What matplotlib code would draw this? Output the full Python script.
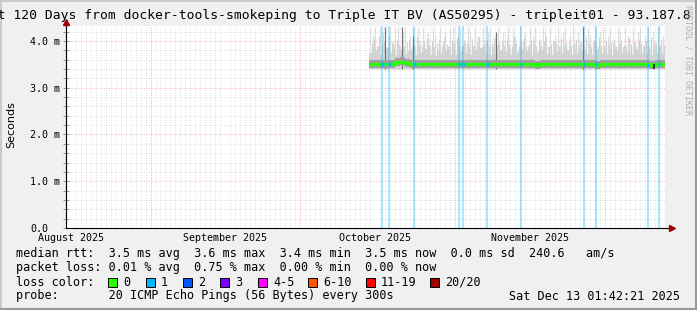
import matplotlib
matplotlib.use("Agg")
import matplotlib.pyplot as plt
import numpy as np
from matplotlib.ticker import FixedLocator
from matplotlib.patches import Rectangle
from matplotlib.lines import Line2D

W, H, DPI = 697, 310, 100

# ---------------- data (x in days since graph start, Aug 15 2025 01:42) -------------
month_starts = [16.93, 46.93, 77.93, 107.93]
month_label_pos = [0.93, 31.93, 61.93, 92.93]
month_labels = ["August 2025", "September 2025", "October 2025", "November 2025"]

y_ticks = [0.0, 1.0, 2.0, 3.0, 4.0]
y_ticklabels = ["0.0", "1.0 m", "2.0 m", "3.0 m", "4.0 m"]

data_start = 60.8
# per-day median rtt (ms), days 60.8..120
median_rtt = [3.50, 3.50, 3.50, 3.51, 3.51, 3.54, 3.56, 3.52, 3.50, 3.50,
              3.50, 3.50, 3.51, 3.50, 3.50, 3.50, 3.50, 3.51, 3.50, 3.50,
              3.50, 3.50, 3.50, 3.50, 3.51, 3.50, 3.50, 3.50, 3.50, 3.50,
              3.50, 3.50, 3.50, 3.49, 3.50, 3.50, 3.50, 3.50, 3.50, 3.50,
              3.50, 3.50, 3.50, 3.50, 3.50, 3.49, 3.50, 3.50, 3.50, 3.50,
              3.50, 3.50, 3.50, 3.50, 3.50, 3.50, 3.49, 3.50, 3.50]
# per-day upper level of the dense smoke (ms)
smoke_mid = [3.75, 3.80, 3.70, 3.85, 3.75, 3.70, 3.80, 3.72, 3.78, 3.70,
             3.75, 3.82, 3.70, 3.68, 3.75, 3.80, 3.72, 3.70, 3.78, 3.74,
             3.70, 3.80, 3.85, 3.75, 3.70, 3.72, 3.80, 3.76, 3.70, 3.75,
             3.82, 3.78, 3.70, 3.74, 3.80, 3.72, 3.70, 3.77, 3.75, 3.80,
             3.70, 3.73, 3.78, 3.72, 3.70, 3.80, 3.75, 3.72, 3.70, 3.78,
             3.74, 3.76, 3.70, 3.80, 3.72, 3.75, 3.70, 3.74, 3.72]
smoke_low = 3.40
# half-day max ping spikes (ms), days 61.0..119.5
smoke_top = [4.3, 4.1, 4.3, 3.9, 4.3, 4.2, 4.3, 3.8, 4.3, 4.0, 4.3, 4.3, 3.9, 4.2, 4.3, 3.8, 4.1, 4.3, 3.9, 4.3,
             4.0, 4.3, 3.8, 4.2, 3.9, 4.3, 4.1, 3.8, 4.3, 4.0, 4.2, 3.9, 4.3, 4.3, 3.8, 4.1, 4.3, 3.9, 4.0, 4.3,
             4.2, 3.9, 4.3, 4.1, 3.8, 4.3, 4.0, 4.2, 4.3, 3.9, 4.1, 4.3, 3.8, 4.2, 4.0, 4.3, 3.9, 4.3, 4.1, 3.8,
             4.3, 4.0, 4.2, 3.9, 4.3, 4.1, 4.3, 3.8, 4.0, 4.3, 4.2, 3.9, 4.3, 4.0, 4.1, 4.3, 3.9, 4.2, 4.3, 3.8,
             4.1, 4.3, 3.9, 4.2, 4.0, 4.3, 3.8, 4.3, 4.1, 4.0, 4.3, 3.9, 4.2, 4.3, 3.8, 4.1, 4.3, 4.0, 3.9, 4.3,
             4.2, 3.9, 4.3, 4.1, 3.8, 4.3, 4.0, 4.2, 4.3, 3.9, 4.1, 4.3, 3.8, 4.2, 4.0, 4.3, 3.9, 4.1]
# half-day upper-percentile pings (ms), days 61.25..119.75
smoke_upper = [3.95, 4.05, 3.90, 4.10, 3.92, 4.00, 3.88, 4.08, 3.95, 3.90, 4.02, 3.94, 4.10, 3.90, 3.98, 4.04, 3.90, 3.96, 4.08, 3.92,
               3.90, 3.98, 4.06, 3.92, 4.00, 3.88, 3.96, 4.04, 3.90, 4.08, 3.94, 3.90, 4.00, 3.96, 4.06, 3.90, 3.92, 4.02, 3.96, 3.90,
               4.04, 3.92, 3.98, 4.08, 3.90, 3.94, 4.02, 3.90, 3.96, 4.06, 3.92, 3.98, 4.00, 3.90, 4.04, 3.94, 3.90, 4.08, 3.96, 3.92,
               3.98, 4.06, 3.90, 3.94, 4.02, 3.96, 3.90, 4.04, 3.92, 3.98, 4.08, 3.90, 3.94, 4.00, 3.96, 3.90, 4.06, 3.92, 3.98, 4.02,
               3.90, 3.96, 4.04, 3.92, 3.98, 3.90, 4.06, 3.94, 3.90, 4.02, 3.96, 4.08, 3.92, 3.90, 4.00, 3.94, 3.98, 4.04, 3.90, 3.96,
               4.02, 3.92, 3.90, 4.06, 3.94, 3.98, 3.90, 4.04, 3.96, 3.92, 4.00, 3.90, 4.08, 3.94, 3.96, 3.90, 4.02, 3.92]
# darker full-height spikes
dark_spike_days = [64.0, 67.4, 69.6, 86.2, 103.6]
dark_spike_top = [4.3, 4.3, 4.1, 4.2, 4.3]
dip_day, dip_low = 117.8, 3.40
# days with 1/20 packet loss
loss_days = [63.4, 64.8, 69.8, 78.8, 79.6, 84.4, 91.2, 103.8, 106.2, 116.6, 118.8]

loss_labels = ["0", "1", "2", "3", "4-5", "6-10", "11-19", "20/20"]
loss_colors = ["#26ff00", "#00b8ff", "#0059ff", "#7e00ff", "#ff00ff", "#ff5500", "#ff0000", "#a10000"]
loss_box_x = [108, 146, 183, 220, 258, 308, 366, 430]

title = "Last 120 Days from docker-tools-smokeping to Triple IT BV (AS50295) - tripleit01 - 93.187.8"
row_median = "median rtt:  3.5 ms avg  3.6 ms max  3.4 ms min  3.5 ms now  0.0 ms sd  240.6   am/s"
row_loss = "packet loss: 0.01 % avg  0.75 % max  0.00 % min  0.00 % now"
row_probe = "probe:       20 ICMP Echo Pings (56 Bytes) every 300s"
date_text = "Sat Dec 13 01:42:21 2025"

# ---------------- figure ----------------
fig = plt.figure(figsize=(W / DPI, H / DPI), dpi=DPI, facecolor="#F0F0F0")
MONO = "DejaVu Sans Mono"

def px(x, y):
    return x / W, 1 - y / H

ax_l, ax_r, ax_t, ax_b = 66, 665, 26, 228
ax = fig.add_axes([ax_l / W, 1 - ax_b / H, (ax_r - ax_l) / W, (ax_b - ax_t) / H])
ax.set_facecolor("white")
ax.set_xlim(0, 120)
ax.set_ylim(0, 4.32)

# grid
ax.set_axisbelow(True)
ax.xaxis.set_minor_locator(FixedLocator(np.arange(0.93, 120, 1.0)))
ax.yaxis.set_minor_locator(FixedLocator(np.arange(0.2, 4.32, 0.2)))
ax.grid(which="minor", color="#d4d4d4", ls=(0, (1, 2)), lw=0.6)
ax.yaxis.grid(which="major", color="#f4a0a0", ls=(0, (1, 2)), lw=0.6)
for m in month_starts:
    ax.axvline(m, color="#f4a0a0", ls=(0, (1, 2)), lw=0.6, zorder=0.6)

# smoke
edges = [data_start] + list(range(62, 121))
top_x = np.arange(61.0, 120.0, 0.5)
upper_x = np.arange(61.25, 120.0, 0.5)
ax.vlines(top_x, smoke_low, smoke_top, color="#dcdcdc", lw=0.9, zorder=1.9)
ax.vlines(upper_x, smoke_low, smoke_upper, color="#d0d0d0", lw=0.8, zorder=1.95)
ax.stairs(smoke_mid, edges, baseline=smoke_low, fill=True, color="#d2d2d2", lw=0, zorder=2)
ax.vlines(dark_spike_days, smoke_low, dark_spike_top, color="#707070", lw=0.8, zorder=2.1)
ax.stairs(np.array(median_rtt) + 0.09, edges, baseline=np.array(median_rtt) - 0.08,
          fill=True, color="#a0a0a0", lw=0, zorder=2.2)
ax.vlines([dip_day], dip_low, 3.5, color="#222222", lw=1.2, zorder=3.5)

# loss bars
ax.vlines(loss_days, 0, 4.32, color="#00b8ff", alpha=0.4, lw=1.2, zorder=2.5)

# median line
ax.stairs(median_rtt, edges, baseline=None, color=loss_colors[0], lw=2.3, zorder=3)
for d in loss_days:
    i = min(int(d) - 61 + 1, len(median_rtt) - 1) if d >= 62 else 0
    ax.plot([d - 0.25, d + 0.25], [median_rtt[i]] * 2, color=loss_colors[1], lw=2.3,
            solid_capstyle="butt", zorder=3.1)

# axes
for s in ["top", "right"]:
    ax.spines[s].set_visible(False)
for s in ["left", "bottom"]:
    ax.spines[s].set_color("#000000")
    ax.spines[s].set_linewidth(0.8)
    ax.spines[s].set_zorder(5)
ax.set_xticks(month_label_pos, month_labels)
ax.tick_params(axis="x", which="both", length=0, pad=3.8, labelsize=7.2)
for lbl in ax.get_xticklabels():
    lbl.set_fontfamily(MONO)
ax.set_yticks(y_ticks, y_ticklabels)
ax.tick_params(axis="y", which="both", direction="inout", length=4, width=0.6,
               color="#888888", pad=24, labelsize=7.2)
for lbl in ax.get_yticklabels():
    lbl.set_fontfamily(MONO)
    lbl.set_ha("left")

# axis arrows
ax.plot([0, 0], [1.0, 1.02], transform=ax.transAxes, color="black", lw=0.8, clip_on=False)
ax.plot([1.0, 1.011], [0, 0], transform=ax.transAxes, color="black", lw=0.8, clip_on=False)
ax.plot([0], [1.02], transform=ax.transAxes, marker="^", ms=5, color="#a00000", clip_on=False, zorder=6)
ax.plot([1.012], [0], transform=ax.transAxes, marker=">", ms=5, color="#a00000", clip_on=False, zorder=6)

# texts
fig.text(*px(11, 125), "Seconds", rotation=90, ha="center", va="center",
         fontsize=8, family="DejaVu Sans", color="#000000")
fig.text(*px(-25.5, 16), title, ha="left", va="center", fontsize=9.4, family=MONO)
fig.text(*px(688, 5), "RRDTOOL / TOBI OETIKER", rotation=270, ha="center", va="top",
         fontsize=6, family=MONO, color="#b0b0b0")

LS = 8.5
fig.text(*px(16, 254), row_median, ha="left", va="center", fontsize=LS, family=MONO)
fig.text(*px(16, 268), row_loss, ha="left", va="center", fontsize=LS, family=MONO)
fig.text(*px(16, 282), "loss color:", ha="left", va="center", fontsize=LS, family=MONO)
for bx, c, lab in zip(loss_box_x, loss_colors, loss_labels):
    fig.add_artist(Rectangle(px(bx, 286.5), 9 / W, 9 / H, transform=fig.transFigure,
                             facecolor=c, edgecolor="black", lw=0.7))
    fig.text(*px(bx + 15, 282), lab, ha="left", va="center", fontsize=LS, family=MONO)
fig.text(*px(16, 296), row_probe, ha="left", va="center", fontsize=LS, family=MONO)
fig.text(*px(680, 296), date_text, ha="right", va="center", fontsize=LS, family=MONO)

# 3D frame
fig.add_artist(Line2D([0, 1], [1 - 1 / H, 1 - 1 / H], transform=fig.transFigure, color="#CBCBCB", lw=1.5))
fig.add_artist(Line2D([1 / W, 1 / W], [0, 1], transform=fig.transFigure, color="#CBCBCB", lw=1.5))
fig.add_artist(Line2D([0, 1], [1 / H, 1 / H], transform=fig.transFigure, color="#999999", lw=1.5))
fig.add_artist(Line2D([1 - 1 / W, 1 - 1 / W], [0, 1], transform=fig.transFigure, color="#999999", lw=1.5))

fig.savefig("out.png", dpi=DPI, facecolor=fig.get_facecolor())
